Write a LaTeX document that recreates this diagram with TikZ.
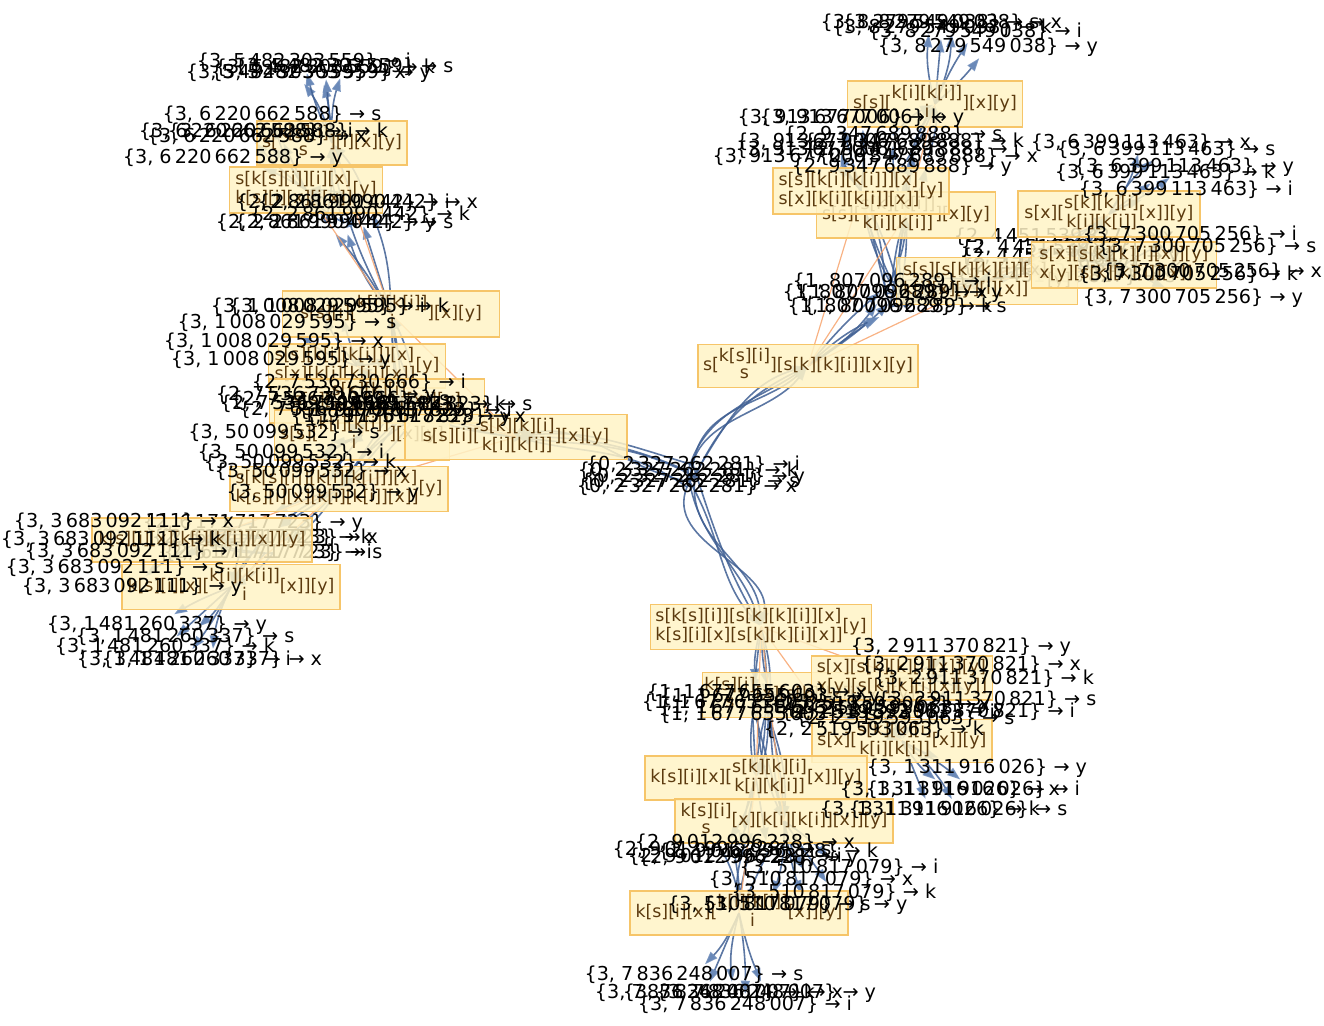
\documentclass[tikz,border=0pt]{standalone}
\usepackage{fontspec}
\setmainfont{DejaVu Sans}
\usetikzlibrary{arrows.meta}
\definecolor{edgeblue}{HTML}{3F5F93}
\definecolor{tipblue}{HTML}{6A89B8}
\definecolor{boxfill}{HTML}{FFF3C6}
\definecolor{boxline}{HTML}{F6C569}
\definecolor{boxtext}{HTML}{5B3A0E}
\definecolor{orangeline}{HTML}{F7A56E}
\newcommand\lblfont{\fontsize{9.6}{11}\selectfont}
\newcommand\boxfont{\fontsize{8.7}{10}\selectfont}
\newcommand\stk[2]{\begin{tabular}{@{}c@{}}#1\\#2\end{tabular}}
\newcommand\stkl[2]{\begin{tabular}{@{}l@{}}#1\\#2\end{tabular}}
\renewcommand\arraystretch{.85}
% one group of five rule labels
\newcommand\rulegroup[3]{\foreach \v/\px/\py in {#3} \node[lbl] (#1-\v) at (\px,-\py) {\{#2\} → \v};}
\pgfdeclarelayer{edges}
\pgfdeclarelayer{under}
\pgfdeclarelayer{boxes}
\pgfsetlayers{edges,under,boxes,main}
\begin{document}
\begin{tikzpicture}[x=.5pt,y=.5pt,
  lbl/.style={font=\lblfont,inner sep=0pt},
  bx/.style 2 args={draw=boxline,line width=.75pt,fill=boxfill,fill opacity=.85,text opacity=1,text=boxtext,font=\boxfont,inner sep=1pt,minimum width=#1*.5pt,minimum height=#2*.5pt},
  ed/.style={draw=edgeblue,draw opacity=.85,line width=.8pt,-{Triangle[length=6.5pt,width=4.5pt,color=tipblue]},shorten >=1pt},
  og/.style={draw=orangeline,draw opacity=.85,line width=.6pt}]
\useasboundingbox (0,0) rectangle (1324,-1026);
%
\begin{pgfonlayer}{boxes}
% upper right
\node[bx={179}{46}] (A1) at (906,-215) {s[s][\stk{s[k][k[i]]}{k[i][k[i]]}][x][y]};
\node[bx={176}{46}] (A2) at (861,-191) {\stkl{s[s][k[i][k[i]]][x]}{s[x][k[i][k[i]][x]]}[y]};
\node[bx={220}{43}] (A) at (808,-366) {s[\stk{k[s][i]}{s}][s[k][k][i]][x][y]};
\node[bx={181}{47}] (A3) at (987,-281) {\stkl{s[s][s[k][k][i]][x]}{k[i][x][y][i][x]]}[y]};
\node[bx={182}{46}] (A5) at (1109,-214) {s[x][\stk{s[k][k][i]}{k[i][k[i]]}[x]][y]};
\node[bx={185}{46}] (A6) at (1124,-265) {\stkl{s[x][s[k][k][i][x]][y]}{x[y][s[k][k][i]][x]]}};
\node[bx={175}{46}] (A4) at (935,-104) {s[s][\stk{k[i][k[i]]}{i}][x][y]};
% bottom
\node[bx={186}{45}] (C1) at (810,-695) {\stk{k[s][i]}{s}[x][s[k][k][i][x]][y]};
\node[bx={181}{44}] (C2) at (902,-678) {\stkl{s[x][s[k][k][i][x]][y]}{x[y][s[k][k][i][x][y]]}};
\node[bx={180}{43}] (C3) at (902,-741) {s[x][\stk{s[k][k][i]}{k[i][k[i]]}[x]][y]};
\node[bx={221}{45}] (C) at (761,-627) {\stkl{s[k[s][i]][s[k][k][i]][x]}{k[s][i][x][s[k][k][i][x]]}[y]};
\node[bx={222}{44}] (C4) at (756,-778) {k[s][i][x][\stk{s[k][k][i]}{k[i][k[i]]}[x]][y]};
\node[bx={218}{44}] (C5) at (784,-821) {\stk{k[s][i]}{s}[x][k[i][k[i]][x]][y]};
\node[bx={218}{44}] (C6) at (739,-913) {k[s][i][x][\stk{k[i][k[i]]}{i}[x]][y]};
% upper left
\node[bx={150}{44}] (L1) at (332,-143) {s[\stk{k[s][i]}{s}][i][x][y]};
\node[bx={153}{46}] (L2) at (306,-190) {\stkl{s[k[s][i]][i][x]}{k[s][i][x][i[x]]}[y]};
\node[bx={217}{46}] (L3) at (391,-314) {s[s][i][\stk{k[i][k[i]]}{i}][x][y]};
\node[bx={177}{44}] (L4) at (357,-366) {\stkl{s[s][k[i][k[i]]][x]}{s[x][k[i][k[i]][x]]}[y]};
\node[bx={215}{44}] (L5) at (377,-401) {s[s][\stk{s[k][k][i]}{k[i][k[i]]}[x]][y]};
\node[bx={175}{50}] (L6) at (362,-435) {s[s][\stk{k[i][k[i]]}{i}][x][y]};
\node[bx={218}{45}] (L7) at (339,-489) {\stkl{s[k[s][i]][k[i][k[i]]][x]}{k[s][i][x][k[i][k[i]][x]]}[y]};
\node[bx={220}{44}] (L8) at (202,-540) {k[s][i][x][k[i][k[i]][x]][y]};
\node[bx={218}{45}] (L9) at (231,-587) {k[s][i][x][\stk{k[i][k[i]]}{i}[x]][y]};
\node[bx={222}{45}] (B) at (516,-437) {s[s][i][\stk{s[k][k][i]}{k[i][k[i]]}][x][y]};
\end{pgfonlayer}
%
% rule labels
\rulegroup{h}{0, 2\,327\,262\,281}{i/693/465,k/688/471,y/695/477,s/690/482,x/687/487}
\rulegroup{g1a}{1, 807\,096\,289}{i/892/282,x/885/293,y/900/293,k/890/307,s/905/307}
\rulegroup{g2b}{2, 9\,347\,689\,888}{s/893/135,k/914/142,i/912/150,x/928/157,y/902/167}
\rulegroup{g3a}{3, 913\,677\,006}{k/840/118,y/862/118,s/838/142,x/815/157,i/835/150}
\rulegroup{g3b}{3, 8\,279\,549\,038}{s/930/23,x/952/23,k/942/28,i/975/32,y/988/47}
\rulegroup{g3c}{3, 6\,399\,113\,463}{x/1141/143,s/1166/150,y/1184/167,k/1165/173,i/1186/190}
\rulegroup{g3d}{3, 7\,300\,705\,256}{i/1190/235,s/1207/247,x/1212/272,k/1188/275,y/1193/298}
\rulegroup{g1c}{1, 1\,677\,655\,603}{x/757/693,y/770/697,k/752/703,i/766/708,s/768/715}
\rulegroup{g2d}{2, 2\,519\,593\,063}{x/880/705,y/895/709,i/888/713,s/905/719,k/874/730}
\rulegroup{g3e}{3, 2\,911\,370\,821}{y/961/647,x/971/665,k/984/679,s/987/700,i/968/712}
\rulegroup{g3f}{3, 1\,311\,916\,026}{y/977/768,x/950/790,i/973/790,k/930/810,s/958/810}
\rulegroup{g2e}{2, 9\,012\,996\,228}{x/745/843,s/722/850,k/768/852,i/735/857,y/748/858}
\rulegroup{g3g}{3, 510\,817\,079}{i/839/868,x/811/880,k/834/893,s/769/905,y/805/905}
\rulegroup{g3h}{3, 7\,836\,248\,007}{s/694/975,k/705/993,x/733/993,y/766/993,i/745/1005}
\rulegroup{g1b}{1, 9\,175\,617\,823}{k/396/405,s/423/405,i/405/411,y/401/417,x/416/417}
\rulegroup{g2f}{2, 7\,536\,730\,666}{i/359/383,y/326/395,s/340/400,k/330/404,x/349/410}
\rulegroup{g3i}{3, 50\,099\,532}{s/284/433,i/291/453,k/300/463,x/311/472,y/323/493}
\rulegroup{g3j}{3, 1\,008\,029\,595}{i/318/307,k/339/307,s/287/323,x/274/342,y/281/360}
\rulegroup{g2g}{2, 2\,861\,990\,442}{i/343/203,x/368/203,k/360/215,y/326/223,s/344/223}
\rulegroup{g3k}{3, 6\,220\,662\,588}{s/272/115,i/246/132,k/278/132,x/257/137,y/233/158}
\rulegroup{g3l}{3, 5\,482\,303\,559}{i/304/62,s/344/67,k/325/68,x/296/73,y/321/73}
\rulegroup{g3m}{3, 3\,683\,092\,111}{x/124/522,k/111/540,i/132/552,s/115/568,y/132/587}
\rulegroup{g3n}{3, 1\,481\,260\,337}{y/157/625,s/185/637,k/165/647,i/184/660,x/212/660}
\begin{pgfonlayer}{under}
\rulegroup{g2c}{2, 4\,451\,539\,827}{x/1064/237,i/1068/248,y/1070/257,k/1072/267,s/1066/277}
\rulegroup{g2h}{2, 6\,171\,717\,723}{y/253/523,k/262/538,x/268/538,i/265/553,s/273/553}
\end{pgfonlayer}
%
\begin{pgfonlayer}{edges}
% from the first labels to the three states
\foreach \v/\oa/\ia/\ob/\ib/\oc/\ic in {x/58/196/145/-14/-112/78,y/66/206/151/-7/-98/94,k/74/214/157/0/-84/108,i/82/222/163/7/-72/120,s/90/232/169/14/-60/132} {
  \draw[ed] (h-\v.center) to[out=\oa,in=\ia] (A.center);
  \draw[ed] (h-\v.center) to[out=\ob,in=\ib] (B.center);
  \draw[ed] (h-\v.center) to[out=\oc,in=\ic] (C.center);
}
% states to their labels
\foreach \src/\grp in {A/g1a,A1/g2b,A2/g3a,A4/g3b,A3/g2c,A5/g3c,A6/g3d,C/g1c,C1/g2d,C2/g3e,C3/g3f,C4/g2e,C5/g3g,C6/g3h,B/g1b,L3/g2g,L1/g3l,L2/g3k,L4/g3j,L5/g2f,L6/g3i,L7/g2h,L8/g3m,L9/g3n}
  \foreach \v/\b in {x/-10,y/-5,k/0,i/5,s/10}
    \draw[ed] (\src.center) to[bend left=\b] (\grp-\v);
% labels to the next states
\foreach \grp/\dst in {g1a/A1,g1a/A2,g1a/A3,g2b/A4,g2c/A5,g2c/A6,g1c/C1,g1c/C2,g1c/C4,g1c/C5,g2d/C3,g2e/C6,g1b/L3,g1b/L4,g1b/L5,g1b/L7,g2g/L1,g2g/L2,g2f/L6,g2h/L8,g2h/L9}
  \foreach \v/\b in {x/-12,y/-6,k/0,i/6,s/12}
    \draw[ed] (\grp-\v.center) to[bend left=\b] (\dst.center);
% direct links between states
\foreach \a/\b in {A/A1,A/A2,A/A3,A1/A4,A3/A5,A3/A6,B/L3,B/L4,B/L5,B/L7,L3/L1,L3/L2,L5/L6,L7/L8,L7/L9,C/C1,C/C2,C/C4,C/C5,C1/C3,C4/C6}
  \draw[og] (\a.center) -- (\b.center);
\end{pgfonlayer}
\end{tikzpicture}
\end{document}
